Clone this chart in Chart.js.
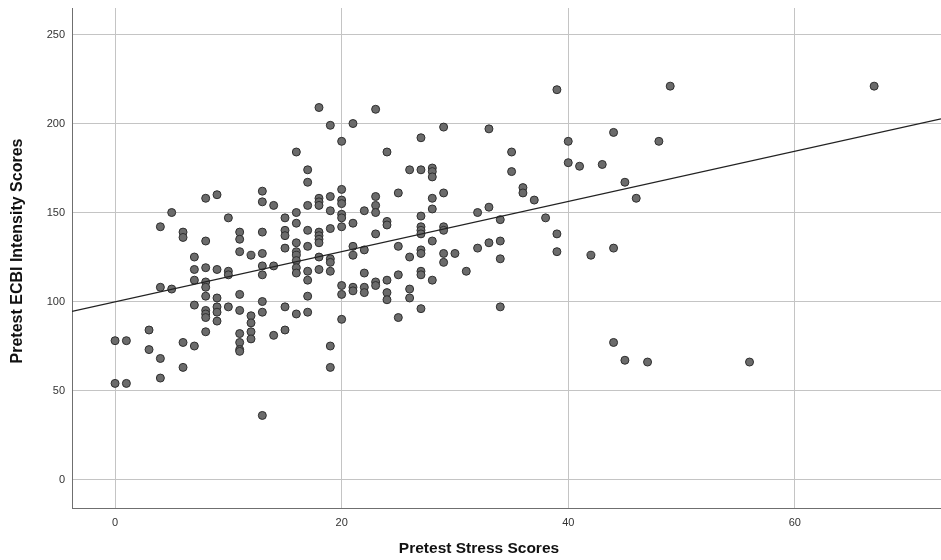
<!DOCTYPE html>
<html>
<head>
<meta charset="utf-8">
<script src="https://cdn.jsdelivr.net/npm/chart.js@4/dist/chart.umd.min.js"></script>
<style>
  html, body { margin: 0; padding: 0; background: #fff; }
  #wrap { width: 941px; height: 560px; position: relative; }
</style>
</head>
<body>
<div id="wrap"><canvas id="chart" width="941" height="560"></canvas></div>
<script>
// stress score values that have at least one case
const stressLevels = [0, 1, 3, 4, 5, 6, 7, 8, 9, 10, 11, 12, 13, 14, 15, 16, 17, 18, 19, 20,
  21, 22, 23, 24, 25, 26, 27, 28, 29, 30, 31, 32, 33, 34, 35, 36, 37, 38, 39, 40,
  41, 42, 43, 44, 45, 46, 47, 48, 49, 56, 67];

// ECBI intensity scores at each stress level (same order as stressLevels)
const ecbiByStress = [
  [78, 54], [78, 54], [84, 73], [142, 108, 68, 57], [150, 107],
  [139, 136, 77, 63], [125, 118, 112, 98, 75],
  [158, 134, 119, 111, 108, 103, 95, 93, 91, 83],
  [160, 118, 102, 97, 94, 89], [147, 117, 115, 97],
  [139, 135, 128, 104, 95, 82, 77, 73, 72], [126, 92, 88, 83, 79],
  [162, 156, 139, 127, 120, 115, 100, 94, 36], [154, 120, 81],
  [147, 140, 137, 130, 97, 84],
  [184, 150, 144, 133, 128, 126, 123, 119, 116, 93],
  [174, 167, 154, 140, 131, 117, 112, 103, 94],
  [209, 158, 156, 154, 139, 137, 135, 133, 125, 118],
  [199, 159, 151, 141, 124, 122, 117, 75, 63],
  [190, 163, 157, 155, 149, 147, 142, 109, 104, 90],
  [200, 144, 131, 126, 108, 106], [151, 129, 116, 108, 105],
  [208, 159, 154, 150, 138, 111, 109], [184, 145, 143, 112, 105, 101],
  [161, 131, 115, 91], [174, 125, 107, 102],
  [192, 174, 148, 142, 140, 138, 129, 127, 117, 115, 96],
  [175, 173, 170, 158, 152, 134, 112], [198, 161, 142, 140, 127, 122],
  [127], [117], [150, 130], [197, 153, 133], [146, 134, 124, 97],
  [184, 173], [164, 161], [157], [147], [219, 138, 128], [190, 178],
  [176], [126], [177], [195, 130, 77], [167, 67], [158], [66], [190],
  [221], [66], [221]
];

// fit line: ECBI = intercept + slope * stress
const fitIntercept = 99.8;
const fitSlope = 1.41;

const xTicks = [0, 20, 40, 60];
const yTicks = [0, 50, 100, 150, 200, 250];
const xRange = [-3.8, 72.9];
const yRange = [-16, 264.9];

const points = [];
stressLevels.forEach((s, i) => {
  ecbiByStress[i].forEach(v => points.push({ x: s, y: v }));
});

const fitLine = xRange.map(x => ({ x: x, y: fitIntercept + fitSlope * x }));

const FONT = "'Liberation Sans', Arial, sans-serif";

// axis titles placed like the SPSS output
const axisTitles = {
  id: 'axisTitles',
  afterDraw(chart) {
    const ctx = chart.ctx;
    ctx.save();
    ctx.fillStyle = '#111';
    ctx.textAlign = 'center';
    ctx.textBaseline = 'middle';
    ctx.font = 'bold 15.5px ' + FONT;
    ctx.fillText('Pretest Stress Scores', 479, 549);
    ctx.font = 'bold 16px ' + FONT;
    ctx.translate(18, 251);
    ctx.rotate(-Math.PI / 2);
    ctx.fillText('Pretest ECBI Intensity Scores', 0, 0);
    ctx.restore();
  }
};

new Chart(document.getElementById('chart'), {
  type: 'scatter',
  data: {
    datasets: [
      {
        data: points,
        pointRadius: 4,
        pointHoverRadius: 4,
        pointBackgroundColor: '#6b6b6b',
        pointBorderColor: '#2e2e2e',
        pointBorderWidth: 1,
        order: 1
      },
      {
        type: 'line',
        data: fitLine,
        borderColor: '#222',
        borderWidth: 1.2,
        pointRadius: 0,
        fill: false,
        order: 0
      }
    ]
  },
  options: {
    responsive: false,
    animation: false,
    events: [],
    layout: { autoPadding: false, padding: { top: 8, left: 0, right: 0, bottom: 0 } },
    plugins: {
      legend: { display: false },
      tooltip: { enabled: false }
    },
    scales: {
      x: {
        type: 'linear',
        min: xRange[0],
        max: xRange[1],
        afterBuildTicks: (scale) => { scale.ticks = xTicks.map(v => ({ value: v })); },
        afterFit: (scale) => {
          scale.height = 52;
          scale.paddingLeft = 0;
          scale.paddingRight = 0;
        },
        grid: { color: '#c4c4c4', lineWidth: 1, drawTicks: false },
        border: { display: true, color: '#6f6f6f', width: 1 },
        ticks: { color: '#333', font: { family: FONT, size: 11 }, padding: 8, maxRotation: 0 }
      },
      y: {
        type: 'linear',
        min: yRange[0],
        max: yRange[1],
        afterBuildTicks: (scale) => { scale.ticks = yTicks.map(v => ({ value: v })); },
        afterFit: (scale) => {
          scale.width = 72;
          scale.paddingTop = 0;
          scale.paddingBottom = 0;
        },
        grid: { color: '#c4c4c4', lineWidth: 1, drawTicks: false },
        border: { display: true, color: '#6f6f6f', width: 1 },
        ticks: { color: '#333', font: { family: FONT, size: 11 }, padding: 7 }
      }
    }
  },
  plugins: [axisTitles]
});
</script>
</body>
</html>
